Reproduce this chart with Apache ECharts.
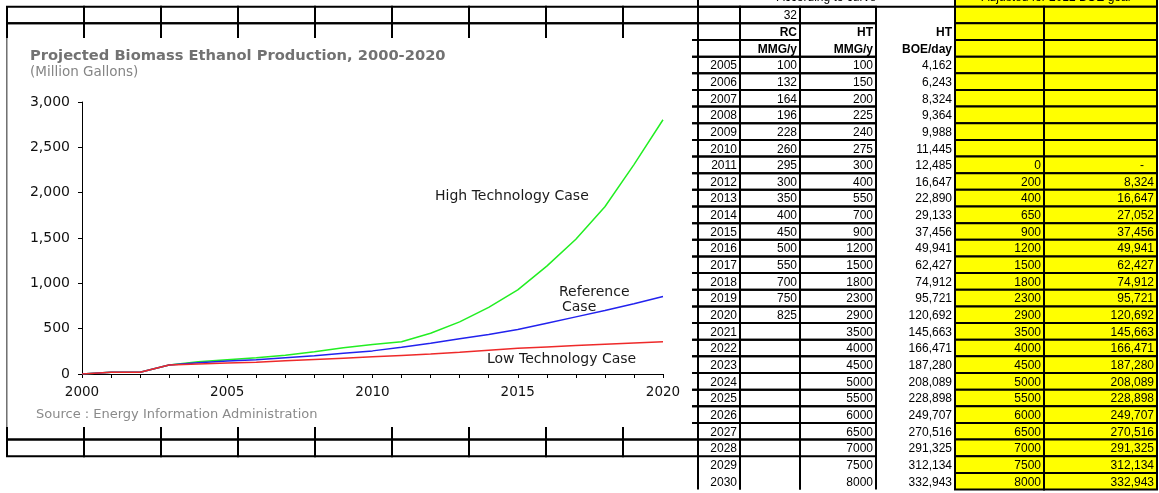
<!DOCTYPE html>
<html><head><meta charset="utf-8">
<script src="https://cdn.jsdelivr.net/npm/echarts@6/dist/echarts.min.js"></script>
<style>html,body{margin:0;padding:0;background:#fff}#c{width:1159px;height:493px}</style>
</head><body><div id="c"></div>
<script>
// ---------- chart data (Million Gallons) ----------
const chartYears = [2000,2001,2002,2003,2004,2005,2006,2007,2008,2009,2010,2011,2012,2013,2014,2015,2016,2017,2018,2019,2020];
const highTech   = [0,18,20,100,136,158,180,206,246,290,325,355,449,575,735,927,1190,1487,1845,2310,2804];
const reference  = [0,18,20,100,125,143,158,180,202,230,255,295,339,388,436,490,560,630,700,775,854];
const lowTech    = [0,18,20,100,110,120,130,145,160,175,190,205,220,240,262,283,298,313,328,342,357];

// ---------- spreadsheet data ----------
const tableYears = [2005,2006,2007,2008,2009,2010,2011,2012,2013,2014,2015,2016,2017,2018,2019,2020,2021,2022,2023,2024,2025,2026,2027,2028,2029,2030];
const rcMMG  = [100,132,164,196,228,260,295,300,350,400,450,500,550,700,750,825];
const htMMG  = [100,150,200,225,240,275,300,400,550,700,900,1200,1500,1800,2300,2900,3500,4000,4500,5000,5500,6000,6500,7000,7500,8000];
const htBOE  = [4162,6243,8324,9364,9988,11445,12485,16647,22890,29133,37456,49941,62427,74912,95721,120692,145663,166471,187280,208089,228898,249707,270516,291325,312134,332943];
const adjHT  = [null,null,null,null,null,null,0,200,400,650,900,1200,1500,1800,2300,2900,3500,4000,4500,5000,5500,6000,6500,7000,7500,8000];
const adjBOE = [null,null,null,null,null,null,'-',8324,16647,27052,37456,49941,62427,74912,95721,120692,145663,166471,187280,208089,228898,249707,270516,291325,312134,332943];
const headerLeft  = 'According to curve';
const headerRight = 'Adjusted for 2012 BOE goal';
const factorLabel = '32';

// ---------- layout ----------
const leftCols  = [7,84,161,238,315,392,469,546,623,698];
const tableCols = [698,740,800,876,955,1044,1157];
const YELLOW = '#FFFF00';
const fmt = v => (typeof v === 'number') ? v.toLocaleString('en-US') : v;

const cells = [];
function addCell(x0, x1, r0, r1, o) { cells.push(Object.assign({x0, x1, r0, r1, border:'all', text:'', align:'right', bold:false, fill:null}, o || {})); }

// background sheet grid left of the table (rows 1..27)
for (let r = 1; r <= 27; r++) for (let i = 0; i < leftCols.length - 1; i++) addCell(leftCols[i], leftCols[i+1], r-1, r);

// table header row 0 (clipped at top of window)
addCell(tableCols[0], tableCols[4], -1, 0, {text: headerLeft, align:'center', vshift: -1.5});
addCell(tableCols[4], tableCols[6], -1, 0, {text: headerRight, align:'center', vshift: -1.5, fill: YELLOW});
// row 1
addCell(tableCols[0], tableCols[1], 0, 1);
addCell(tableCols[1], tableCols[2], 0, 1, {text: factorLabel});
addCell(tableCols[2], tableCols[3], 0, 1);
addCell(tableCols[4], tableCols[5], 0, 1, {fill: YELLOW});
addCell(tableCols[5], tableCols[6], 0, 1, {fill: YELLOW});
// rows 2-3 headers
addCell(tableCols[0], tableCols[1], 1, 2);
addCell(tableCols[0], tableCols[1], 2, 3);
addCell(tableCols[1], tableCols[2], 1, 2, {text:'RC', bold:true});
addCell(tableCols[1], tableCols[2], 2, 3, {text:'MMG/y', bold:true});
addCell(tableCols[2], tableCols[3], 1, 3);
addCell(tableCols[2], tableCols[3], 1, 2, {text:'HT', bold:true, border:'none'});
addCell(tableCols[2], tableCols[3], 2, 3, {text:'MMG/y', bold:true, border:'none'});
addCell(tableCols[3], tableCols[4], 1, 2, {text:'HT', bold:true, border:'none'});
addCell(tableCols[3], tableCols[4], 2, 3, {text:'BOE/day', bold:true, border:'none'});
for (let r = 2; r <= 3; r++) {
  addCell(tableCols[4], tableCols[5], r-1, r, {fill: YELLOW});
  addCell(tableCols[5], tableCols[6], r-1, r, {fill: YELLOW});
}
// data rows
tableYears.forEach((y, i) => {
  const r = 4 + i;
  const b = r <= 27 ? 'all' : 'v';
  addCell(tableCols[0], tableCols[1], r-1, r, {text: String(y), border: b});
  addCell(tableCols[1], tableCols[2], r-1, r, {text: rcMMG[i] != null ? String(rcMMG[i]) : '', border: b});
  addCell(tableCols[2], tableCols[3], r-1, r, {text: String(htMMG[i]), border: b});
  addCell(tableCols[3], tableCols[4], r-1, r, {text: fmt(htBOE[i]), border: 'none'});
  addCell(tableCols[4], tableCols[5], r-1, r, {text: adjHT[i] != null ? String(adjHT[i]) : '', fill: YELLOW});
  addCell(tableCols[5], tableCols[6], r-1, r, {text: adjBOE[i] != null ? (adjBOE[i] === '-' ? '-   ' : fmt(adjBOE[i])) : '', fill: YELLOW});
});

function renderCell(params, api) {
  const c = cells[params.dataIndex];
  const p0 = api.coord([c.x0, c.r0]);
  const p1 = api.coord([c.x1, c.r1]);
  const ch = [];
  const ls = {stroke:'#000', lineWidth:2};
  if (c.fill) ch.push({type:'rect', shape:{x:p0[0], y:p0[1], width:p1[0]-p0[0], height:p1[1]-p0[1]}, style:{fill:c.fill}});
  if (c.border === 'all') {
    ch.push({type:'rect', shape:{x:p0[0], y:p0[1], width:p1[0]-p0[0], height:p1[1]-p0[1]}, style:Object.assign({fill:null}, ls)});
  } else if (c.border === 'v') {
    ch.push({type:'line', shape:{x1:p0[0], y1:p0[1], x2:p0[0], y2:p1[1]}, style:ls});
    ch.push({type:'line', shape:{x1:p1[0], y1:p0[1], x2:p1[0], y2:p1[1]}, style:ls});
  }
  if (c.text) {
    let tx = c.align === 'center' ? (p0[0]+p1[0])/2 : p1[0] - 3;
    ch.push({type:'text', style:{text:c.text, x:tx, y:(p0[1]+p1[1])/2 + 1 + (c.vshift||0), align:c.align, verticalAlign:'middle',
      font:(c.bold?'bold ':'') + '12px "Liberation Sans", Arial, sans-serif', fill:'#000'}});
  }
  return {type:'group', children: ch};
}

const chartFont = '"DejaVu Sans", Verdana, sans-serif';
const chart = echarts.init(document.getElementById('c'), null, {renderer:'canvas'});
chart.setOption({
  animation: false,
  backgroundColor: '#fff',
  grid: [
    {left: 82, top: 102, width: 581, height: 272},
    {left: 0, top: 6.7, width: 1159, height: 482.85}
  ],
  xAxis: [
    {gridIndex:0, type:'value', min:2000, max:2020, interval:1, z:3,
     axisLine:{show:true, onZero:false, lineStyle:{color:'#000', width:1}},
     axisTick:{show:true, length:4, lineStyle:{color:'#000'}},
     axisLabel:{formatter: v => (v % 5 === 0 ? String(v) : ''), color:'#111', fontFamily:chartFont, fontSize:13.5, margin:11},
     splitLine:{show:false}},
    {gridIndex:1, type:'value', min:0, max:1159, show:false}
  ],
  yAxis: [
    {gridIndex:0, type:'value', min:0, max:3000, interval:500, z:3,
     axisLine:{show:true, lineStyle:{color:'#000', width:1}},
     axisTick:{show:true, length:4, lineStyle:{color:'#000'}},
     axisLabel:{formatter: v => v.toLocaleString('en-US'), color:'#111', fontFamily:chartFont, fontSize:14, margin:12},
     splitLine:{show:false}},
    {gridIndex:1, type:'value', min:0, max:29, inverse:true, show:false}
  ],
  series: [
    {type:'custom', xAxisIndex:1, yAxisIndex:1, z:1, clip:false, silent:true,
     data: cells.map(c => [c.x0, c.r0]), renderItem: renderCell},
    {type:'line', name:'High Technology Case', xAxisIndex:0, yAxisIndex:0, z:4, showSymbol:false, silent:true,
     data: chartYears.map((y,i)=>[y, highTech[i]]), lineStyle:{color:'#22EE22', width:1.5}, itemStyle:{color:'#22EE22'}},
    {type:'line', name:'Reference Case', xAxisIndex:0, yAxisIndex:0, z:4, showSymbol:false, silent:true,
     data: chartYears.map((y,i)=>[y, reference[i]]), lineStyle:{color:'#2222EE', width:1.5}, itemStyle:{color:'#2222EE'}},
    {type:'line', name:'Low Technology Case', xAxisIndex:0, yAxisIndex:0, z:4, showSymbol:false, silent:true,
     data: chartYears.map((y,i)=>[y, lowTech[i]]), lineStyle:{color:'#EE2A2A', width:1.5}, itemStyle:{color:'#EE2A2A'}}
  ],
  graphic: [
    {type:'rect', z:2, silent:true, shape:{x:7, y:38, width:685, height:389}, style:{fill:'#fff'}},
    {type:'line', z:2, silent:true, shape:{x1:7, y1:38, x2:7, y2:427}, style:{stroke:'#999', lineWidth:1.5}},
    {type:'text', z:10, x:30, y:56.5, style:{text:'Projected Biomass Ethanol Production, 2000-2020', font:'bold 14.7px ' + chartFont, fill:'#727272', verticalAlign:'middle'}},
    {type:'text', z:10, x:30, y:72.5, style:{text:'(Million Gallons)', font:'13.5px ' + chartFont, fill:'#858585', verticalAlign:'middle'}},
    {type:'text', z:10, x:36, y:415, style:{text:'Source : Energy Information Administration', font:'13px ' + chartFont, fill:'#8a8a8a', verticalAlign:'middle'}},
    {type:'text', z:10, x:435, y:196.5, style:{text:'High Technology Case', font:'14px ' + chartFont, fill:'#1a1a1a', verticalAlign:'middle'}},
    {type:'text', z:10, x:559, y:292.5, style:{text:'Reference', font:'14px ' + chartFont, fill:'#1a1a1a', verticalAlign:'middle'}},
    {type:'text', z:10, x:562, y:307.5, style:{text:'Case', font:'14px ' + chartFont, fill:'#1a1a1a', verticalAlign:'middle'}},
    {type:'text', z:10, x:487, y:359, style:{text:'Low Technology Case', font:'14px ' + chartFont, fill:'#1a1a1a', verticalAlign:'middle'}}
  ]
});
</script>
</body></html>
